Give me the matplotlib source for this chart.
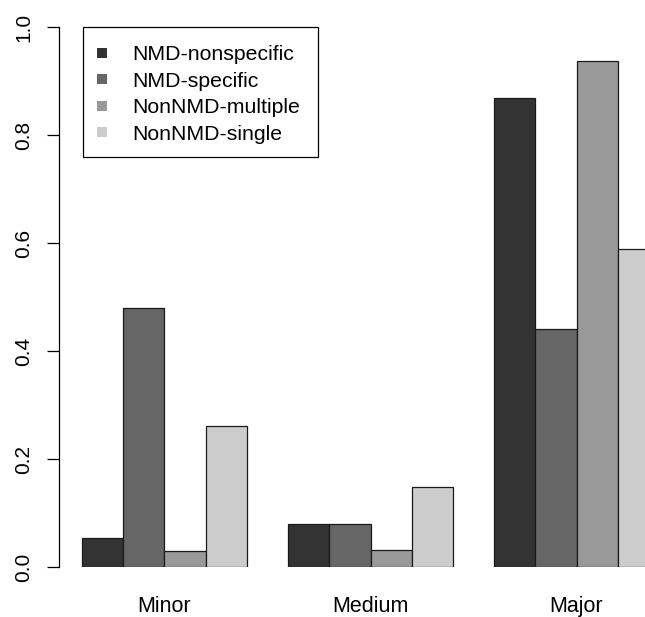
import numpy as np
import matplotlib
matplotlib.use("Agg")
import matplotlib.pyplot as plt
from matplotlib.patches import Rectangle

plt.rcParams['font.family'] = ['Liberation Sans', 'DejaVu Sans']

# data
groups = ["Minor", "Medium", "Major"]
series = ["NMD-nonspecific", "NMD-specific", "NonNMD-multiple", "NonNMD-single"]
nmd_nonspecific = [0.054, 0.080, 0.868]
nmd_specific = [0.480, 0.080, 0.440]
nonnmd_multiple = [0.030, 0.031, 0.937]
nonnmd_single = [0.261, 0.148, 0.589]
values = [nmd_nonspecific, nmd_specific, nonnmd_multiple, nonnmd_single]
colors = ["#333333", "#666666", "#999999", "#cccccc"]
yticks = [0.0, 0.2, 0.4, 0.6, 0.8, 1.0]

W, H = 645, 617
fig = plt.figure(figsize=(W / 100, H / 100), dpi=100)

def fx(px):
    return px / W

def fy(py):
    return 1 - py / H

# R-style barplot: bar width 1, one empty bar between groups
ax = fig.add_axes([fx(59), fy(567), 623 / W, 540 / H])
for j, vals in enumerate(values):
    lefts = [1 + 5 * i + j for i in range(len(groups))]
    ax.bar(lefts, vals, width=1, align='edge', color=colors[j],
           edgecolor='#1a1a1a', linewidth=0.9)

ax.set_xlim(0.44, 15.56)
ax.set_ylim(0, 1.0)
for s in ['top', 'right', 'bottom']:
    ax.spines[s].set_visible(False)
ax.spines['left'].set_linewidth(0.9)
ax.spines['left'].set_bounds(0, 1.0)
ax.set_yticks(yticks)
ax.set_yticklabels(["%.1f" % t for t in yticks], rotation=90, va='center',
                   fontsize=15)
ax.tick_params(axis='y', length=8.6, width=0.9, pad=10)
centers = [3 + 5 * i for i in range(len(groups))]
ax.set_xticks(centers)
ax.set_xticklabels(groups, fontsize=15.5)
ax.tick_params(axis='x', length=0, pad=21)

# legend box drawn by hand in pixel layout
fig.patches.append(Rectangle((fx(83), fy(157)), (318 - 83) / W, 130 / H,
                             transform=fig.transFigure, fill=False,
                             edgecolor='black', linewidth=0.9))
for k, name in enumerate(series):
    yc = 53 + k * 26.4
    fig.patches.append(Rectangle((fx(97), fy(yc + 5)), 10 / W, 10 / H,
                                 transform=fig.transFigure,
                                 facecolor=colors[k], edgecolor='none'))
    fig.text(fx(132), fy(yc), name, fontsize=15.3, va='center_baseline', ha='left')

fig.savefig("out.png", dpi=100)
